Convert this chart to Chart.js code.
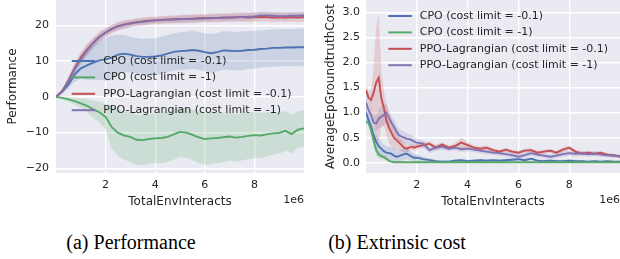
<!DOCTYPE html>
<html>
<head>
<meta charset="utf-8">
<script src="https://cdn.jsdelivr.net/npm/chart.js@4.4.1/dist/chart.umd.min.js"></script>
<style>
  body { margin: 0; background: #fff; width: 620px; height: 259px; position: relative; overflow: hidden; }
  .panel { position: absolute; top: 0; width: 310px; height: 215px; }
  .caption { position: absolute; top: 231px; width: 260px; text-align: center; font-family: "Liberation Serif", "Times New Roman", serif; font-size: 20px; color: #000; }
</style>
</head>
<body>
<div class="panel" style="left:0"><canvas id="perfChart"></canvas></div>
<div class="panel" style="left:310px"><canvas id="costChart"></canvas></div>
<div class="caption" style="left:1px">(a) Performance</div>
<div class="caption" style="left:267px">(b) Extrinsic cost</div>
<script>
// series (same order in both panels)
const seriesLabels = ['CPO (cost limit = -0.1)', 'CPO (cost limit = -1)', 'PPO-Lagrangian (cost limit = -0.1)', 'PPO-Lagrangian (cost limit = -1)'];
const seriesColors = ['#4c72b0', '#55a868', '#c44e52', '#8172b2'];

// x ticks (units of 1e6 env interacts)
const xTicks = [2, 4, 6, 8];
const perfYTicks = [-20, -10, 0, 10, 20];
const costYTicks = [0, 0.5, 1, 1.5, 2, 2.5, 3];

// (a) performance
const perfX = [0, 0.25, 0.5, 0.75, 1, 1.25, 1.5, 1.75, 2, 2.25, 2.5, 2.75, 3, 3.25, 3.5, 3.75, 4, 4.25, 4.5, 4.75, 5, 5.25, 5.5, 5.75, 6, 6.25, 6.5, 6.75, 7, 7.25, 7.5, 7.75, 8, 8.25, 8.5, 8.75, 9, 9.25, 9.5, 9.75, 10];
const perfCpoA = [0, 1.5, 3.4, 6.2, 8, 8.8, 9.6, 10.2, 10.5, 11, 11.8, 12.1, 11.8, 11.4, 11.2, 11.2, 11.3, 11.6, 12.1, 12.6, 12.8, 12.9, 13.1, 12.9, 12.5, 12.2, 12.5, 13, 12.9, 12.8, 12.9, 13.1, 13.2, 13.4, 13.5, 13.7, 13.7, 13.8, 13.8, 13.9, 13.9];
const perfCpoASd = [0.3, 0.6, 1, 2, 3, 4, 4.8, 5.5, 6, 6.2, 5.6, 5.2, 5, 5, 5, 5.1, 5.2, 5.2, 5.2, 5.2, 5.3, 5.3, 5.3, 5.3, 5.3, 5.4, 5.4, 5.4, 5.4, 5.4, 5.4, 5.3, 5.3, 5.2, 5.2, 5.2, 5.2, 5.2, 5.2, 5.2, 5.3];
const perfCpoB = [0, -0.3, -0.7, -1.2, -1.8, -2.5, -3.5, -4.3, -5.6, -8.5, -10.1, -10.8, -11.2, -12, -12.1, -11.8, -11.6, -11.5, -11.2, -10.5, -9.8, -10, -10.6, -11.3, -11.8, -11.6, -11.5, -11.3, -11.1, -11.4, -11.2, -10.9, -10.7, -10.8, -10.5, -10.2, -10.1, -9.5, -10.4, -9.2, -8.8];
const perfCpoBSd = [0.2, 0.4, 0.7, 1, 1.4, 1.9, 2.4, 2.9, 3.5, 6, 6.5, 6.8, 7, 7, 7, 7, 7, 7, 7, 7, 7, 7, 7.1, 7.2, 7.2, 7.2, 7, 6.9, 6.8, 6.7, 6.6, 6.5, 6.5, 6.3, 6.2, 6, 5.8, 5.6, 5.4, 5.2, 5];
const perfPpoA = [0, 1.6, 4.6, 8, 11, 13.2, 15.1, 16.8, 18, 19, 19.8, 20.2, 20.6, 20.9, 21.1, 21.3, 21.4, 21.5, 21.6, 21.7, 21.8, 21.8, 21.9, 22, 22, 22.1, 22.1, 22.2, 22.2, 22.3, 22.3, 22.2, 22.3, 22.4, 22.3, 22.2, 22.3, 22.2, 22.3, 22.2, 22.3];
const perfPpoASd = [0.2, 0.6, 1, 1.4, 1.6, 1.6, 1.5, 1.4, 1.3, 1.2, 1.2, 1.2, 1.1, 1.1, 1.1, 1.1, 1.1, 1.1, 1.1, 1.1, 1.2, 1.2, 1.2, 1.2, 1.2, 1.2, 1.2, 1.2, 1.2, 1.3, 1.3, 1.3, 1.3, 1.3, 1.3, 1.3, 1.3, 1.3, 1.3, 1.3, 1.3];
const perfPpoB = [0, 1.5, 4.4, 7.7, 10.5, 13, 15, 16.7, 18, 19, 19.7, 20.2, 20.5, 20.8, 21, 21.2, 21.4, 21.5, 21.6, 21.6, 21.7, 21.8, 21.8, 21.9, 22, 22, 22.1, 22.1, 22.2, 22.2, 22.3, 22.4, 22.5, 22.8, 22.8, 22.7, 22.6, 22.6, 22.7, 22.7, 22.8];
const perfPpoBSd = [0.2, 0.5, 0.9, 1.2, 1.4, 1.4, 1.3, 1.2, 1.1, 1, 1, 1, 0.9, 0.9, 0.9, 0.9, 0.9, 0.9, 0.9, 0.9, 1, 1, 1, 1, 1, 1, 1, 1, 1, 1, 1, 1, 1, 1, 1, 1, 1, 1, 1, 1, 1];

// (b) extrinsic cost
const costX = [0, 0.1, 0.2, 0.3, 0.4, 0.5, 0.6, 0.7, 0.8, 0.9, 1, 1.1, 1.2, 1.3, 1.4, 1.5, 1.6, 1.7, 1.8, 1.9, 2, 2.25, 2.5, 2.75, 3, 3.25, 3.5, 3.75, 4, 4.25, 4.5, 4.75, 5, 5.25, 5.5, 5.75, 6, 6.25, 6.5, 6.75, 7, 7.25, 7.5, 7.75, 8, 8.25, 8.5, 8.75, 9, 9.25, 9.5, 9.75, 10];
const costCpoA = [1.0, 0.85, 0.72, 0.55, 0.42, 0.33, 0.28, 0.23, 0.2, 0.19, 0.18, 0.14, 0.12, 0.13, 0.15, 0.17, 0.18, 0.15, 0.12, 0.1, 0.1, 0.07, 0.05, 0.03, 0.02, 0.02, 0.04, 0.05, 0.03, 0.04, 0.05, 0.04, 0.05, 0.04, 0.05, 0.06, 0.07, 0.05, 0.08, 0.04, 0.03, 0.04, 0.03, 0.03, 0.04, 0.03, 0.03, 0.02, 0.03, 0.02, 0.03, 0.02, 0.02];
const costCpoASd = [0.1, 0.1, 0.12, 0.15, 0.15, 0.15, 0.14, 0.13, 0.13, 0.13, 0.13, 0.13, 0.12, 0.12, 0.12, 0.12, 0.11, 0.1, 0.09, 0.08, 0.07, 0.05, 0.04, 0.03, 0.03, 0.03, 0.03, 0.03, 0.03, 0.03, 0.03, 0.03, 0.03, 0.03, 0.03, 0.03, 0.03, 0.03, 0.03, 0.03, 0.03, 0.03, 0.03, 0.03, 0.03, 0.03, 0.02, 0.02, 0.02, 0.02, 0.02, 0.02, 0.02];
const costCpoB = [0.82, 0.8, 0.65, 0.45, 0.25, 0.16, 0.13, 0.11, 0.08, 0.04, 0.02, 0.01, 0.01, 0.01, 0.01, 0.01, 0.01, 0.01, 0.01, 0.01, 0.01, 0.01, 0.01, 0.01, 0.01, 0.01, 0.01, 0.01, 0.01, 0.01, 0.01, 0.01, 0.01, 0.01, 0.01, 0.01, 0.01, 0.01, 0.01, 0.01, 0.01, 0.01, 0.01, 0.01, 0.01, 0.01, 0.01, 0.01, 0.01, 0.01, 0.01, 0.01, 0.01];
const costCpoBSd = [0.05, 0.08, 0.1, 0.12, 0.1, 0.08, 0.06, 0.05, 0.04, 0.03, 0.02, 0.02, 0.01, 0.01, 0.01, 0.01, 0.01, 0.01, 0.01, 0.01, 0.01, 0.01, 0.01, 0.01, 0.01, 0.01, 0.01, 0.01, 0.01, 0.01, 0.01, 0.01, 0.01, 0.01, 0.01, 0.01, 0.01, 0.01, 0.01, 0.01, 0.01, 0.01, 0.01, 0.01, 0.01, 0.01, 0.01, 0.01, 0.01, 0.01, 0.01, 0.01, 0.01];
const costPpoA = [1.45, 1.3, 1.25, 1.4, 1.6, 1.7, 1.3, 1.1, 0.85, 0.7, 0.6, 0.5, 0.45, 0.4, 0.35, 0.3, 0.28, 0.3, 0.32, 0.3, 0.32, 0.35, 0.38, 0.3, 0.36, 0.3, 0.33, 0.4, 0.35, 0.3, 0.28, 0.3, 0.25, 0.22, 0.26, 0.22, 0.2, 0.24, 0.25, 0.2, 0.22, 0.24, 0.2, 0.26, 0.3, 0.22, 0.18, 0.2, 0.18, 0.2, 0.16, 0.15, 0.12];
const costPpoASd = [0.1, 0.12, 0.2, 0.5, 1.1, 1.3, 0.6, 0.35, 0.3, 0.3, 0.28, 0.25, 0.2, 0.15, 0.12, 0.1, 0.08, 0.07, 0.06, 0.06, 0.06, 0.05, 0.05, 0.05, 0.05, 0.05, 0.06, 0.1, 0.06, 0.05, 0.05, 0.05, 0.04, 0.04, 0.04, 0.04, 0.04, 0.04, 0.04, 0.04, 0.04, 0.04, 0.04, 0.05, 0.05, 0.04, 0.04, 0.04, 0.04, 0.03, 0.03, 0.03, 0.03];
const costPpoB = [1.2, 1.05, 0.95, 0.8, 0.78, 0.88, 0.92, 0.95, 1.0, 0.9, 0.8, 0.72, 0.62, 0.55, 0.52, 0.5, 0.48, 0.47, 0.45, 0.42, 0.4, 0.38, 0.25, 0.3, 0.32, 0.28, 0.3, 0.27, 0.28, 0.26, 0.24, 0.22, 0.2, 0.19, 0.17, 0.15, 0.12, 0.15, 0.19, 0.16, 0.14, 0.12, 0.14, 0.17, 0.19, 0.18, 0.19, 0.17, 0.18, 0.16, 0.15, 0.14, 0.13];
const costPpoBSd = [0.15, 0.15, 0.15, 0.15, 0.15, 0.18, 0.2, 0.2, 0.18, 0.15, 0.15, 0.15, 0.14, 0.13, 0.12, 0.12, 0.11, 0.1, 0.1, 0.09, 0.08, 0.07, 0.06, 0.06, 0.06, 0.05, 0.05, 0.05, 0.05, 0.05, 0.05, 0.05, 0.05, 0.05, 0.05, 0.05, 0.05, 0.05, 0.05, 0.05, 0.05, 0.05, 0.05, 0.05, 0.05, 0.05, 0.05, 0.05, 0.05, 0.04, 0.04, 0.04, 0.04];

const FONT = '"DejaVu Sans", sans-serif';
const TEXT = '#262626';

function withAlpha(hex, a) {
  const n = parseInt(hex.slice(1), 16);
  return 'rgba(' + (n >> 16) + ',' + ((n >> 8) & 255) + ',' + (n & 255) + ',' + a + ')';
}

function buildDatasets(xs, means, sds) {
  const lines = [];
  const bands = [];
  means.forEach((mean, k) => {
    const color = seriesColors[k];
    lines.push({
      label: seriesLabels[k],
      data: xs.map((x, i) => ({ x: x, y: mean[i] })),
      borderColor: color, borderWidth: 1.9, pointRadius: 0, fill: false, tension: 0,
      order: 4 - k
    });
    bands.push({
      data: xs.map((x, i) => ({ x: x, y: mean[i] + sds[k][i] })),
      borderColor: 'transparent', borderWidth: 0, pointRadius: 0,
      backgroundColor: withAlpha(color, 0.2), fill: '+1', order: 10
    });
    bands.push({
      data: xs.map((x, i) => ({ x: x, y: mean[i] - sds[k][i] })),
      borderColor: 'transparent', borderWidth: 0, pointRadius: 0, fill: false, order: 10
    });
  });
  return bands.concat(lines);
}

// grey plot background, legend inside the axes and the "1e6" offset text
const seabornPlugin = {
  id: 'seaborn',
  beforeDraw(chart) {
    const a = chart.chartArea, ctx = chart.ctx;
    ctx.save();
    ctx.fillStyle = '#eaeaf2';
    ctx.fillRect(a.left, a.top, a.right - a.left, a.bottom - a.top);
    ctx.restore();
  },
  afterDraw(chart, args, opts) {
    const a = chart.chartArea, ctx = chart.ctx;
    ctx.save();
    ctx.font = '11px ' + FONT;
    ctx.textBaseline = 'middle';
    const items = chart.data.datasets.filter(d => d.label).sort((p, q) => seriesLabels.indexOf(p.label) - seriesLabels.indexOf(q.label));
    items.forEach((d, i) => {
      const y = a.top + opts.legendY + i * 16.4;
      const x = a.left + opts.legendX;
      ctx.strokeStyle = d.borderColor;
      ctx.lineWidth = 2;
      ctx.beginPath();
      ctx.moveTo(x, y);
      ctx.lineTo(x + 23.5, y);
      ctx.stroke();
      ctx.fillStyle = TEXT;
      ctx.textAlign = 'left';
      ctx.fillText(d.label, x + 31.5, y);
    });
    ctx.textAlign = 'right';
    ctx.fillText('1e6', a.right, 200);
    ctx.restore();
  }
};

function makeChart(id, xs, means, sds, yMin, yMax, yTicks, yFmt, yTitle, yTitlePad, yTickPad, rightPad, legendX, legendY) {
  return new Chart(document.getElementById(id), {
    type: 'line',
    data: { datasets: buildDatasets(xs, means, sds) },
    plugins: [seabornPlugin],
    options: {
      responsive: true,
      maintainAspectRatio: false,
      animation: false,
      layout: { padding: { top: 0, right: rightPad, left: 0, bottom: 0 } },
      plugins: {
        legend: { display: false },
        tooltip: { enabled: false },
        seaborn: { legendX: legendX, legendY: legendY }
      },
      scales: {
        x: {
          type: 'linear', min: 0, max: 10,
          afterBuildTicks: s => { s.ticks = xTicks.map(v => ({ value: v })); },
          afterFit: s => { s.height = 42; s.paddingLeft = 0; s.paddingRight = 0; },
          grid: { color: '#ffffff', lineWidth: 1.4, drawTicks: false },
          border: { display: false },
          ticks: { color: TEXT, padding: 6, font: { family: FONT, size: 11 }, maxRotation: 0, callback: v => String(v) },
          title: { display: true, text: 'TotalEnvInteracts', color: TEXT, font: { family: FONT, size: 12 }, padding: { top: 0, bottom: 6 } }
        },
        y: {
          type: 'linear', min: yMin, max: yMax,
          afterBuildTicks: s => { s.ticks = yTicks.map(v => ({ value: v })); },
          afterFit: s => { s.width = 56; s.paddingTop = 0; s.paddingBottom = 0; },
          grid: { color: '#ffffff', lineWidth: 1.4, drawTicks: false },
          border: { display: false },
          ticks: { color: TEXT, padding: yTickPad, font: { family: FONT, size: 11 }, callback: yFmt },
          title: { display: true, text: yTitle, color: TEXT, font: { family: FONT, size: 12 }, padding: { top: yTitlePad, bottom: 0 } }
        }
      }
    }
  });
}

makeChart('perfChart', perfX,
  [perfCpoA, perfCpoB, perfPpoA, perfPpoB], [perfCpoASd, perfCpoBSd, perfPpoASd, perfPpoBSd],
  -21.3, 27.1, perfYTicks, v => (v < 0 ? '\u2212' + Math.abs(v) : String(v)),
  'Performance', 6, 7, 6, 15.7, 61);

makeChart('costChart', costX,
  [costCpoA, costCpoB, costPpoA, costPpoB], [costCpoASd, costCpoBSd, costPpoASd, costPpoBSd],
  -0.206, 3.25, costYTicks, v => v.toFixed(1),
  'AverageEpGroundtruthCost', 13.5, 6, 0, 22.3, 16);
</script>
</body>
</html>
